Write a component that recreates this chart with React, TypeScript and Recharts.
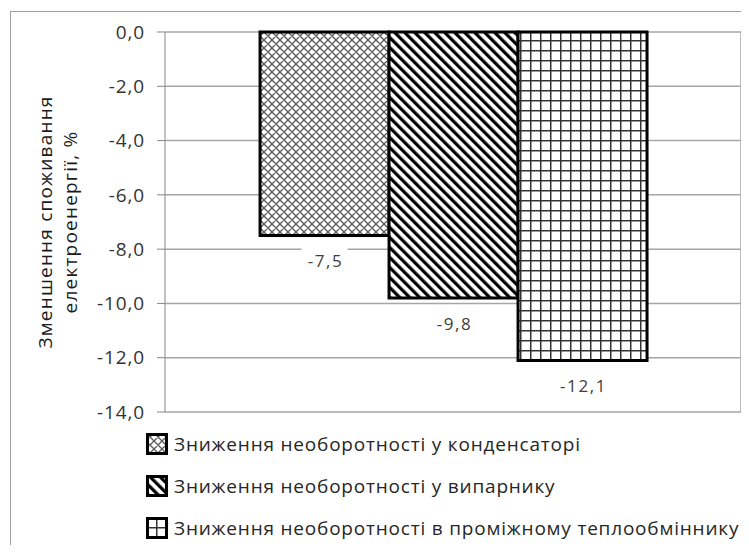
import { BarChart, Bar, XAxis, YAxis, CartesianGrid, Legend, LabelList } from 'recharts'

const categories = ['']
const condenser = [-7.5]
const evaporator = [-9.8]
const exchanger = [-12.1]
const yTicks = [0, -2, -4, -6, -8, -10, -12, -14]
const seriesNames = [
  'Зниження необоротності у конденсаторі',
  'Зниження необоротності у випарнику',
  'Зниження необоротності в проміжному теплообміннику',
]
const yTitle = ['Зменшення споживання', 'електроенергії, %']

const data = categories.map((name, i) => ({
  name,
  condenser: condenser[i],
  evaporator: evaporator[i],
  exchanger: exchanger[i],
}))

const patternIds = ['patCross', 'patDiag', 'patGrid']
const FONT = '"Open Sans", sans-serif'

const fmt = (v: number) => v.toFixed(1).replace('.', ',')

function ValueLabel(props: any) {
  const vb = props.viewBox ?? props
  const x = Number(vb.x)
  const y = Number(vb.y)
  const w = Number(vb.width)
  const h = Number(vb.height)
  const bottom = Math.max(y, y + h)
  const cx = x + w / 2
  const cy = bottom + 25
  return (
    <g>
      <rect x={cx - 23} y={cy - 13} width={46} height={26} fill="#fff" />
      <text
        x={cx + 1}
        y={cy}
        textAnchor="middle"
        dominantBaseline="central"
        fontSize={17}
        letterSpacing={1.6}
        fill="#404040"
        fontFamily={FONT}
      >
        {fmt(Number(props.value))}
      </text>
    </g>
  )
}

function YTitle(props: any) {
  const vb = props.viewBox
  const cy = vb.y + vb.height / 2
  return (
    <g fontFamily={FONT} fontSize={19} letterSpacing={1.2} fill="#1a1a1a">
      <text x={45} y={cy} transform={`rotate(-90 45 ${cy})`} textAnchor="middle" dominantBaseline="central">
        {yTitle[0]}
      </text>
      <text x={70} y={cy} transform={`rotate(-90 70 ${cy})`} textAnchor="middle" dominantBaseline="central">
        {yTitle[1]}
      </text>
    </g>
  )
}

function LegendBox() {
  return (
    <div style={{ fontFamily: FONT, fontSize: 19, letterSpacing: 0.8, color: '#262626', textAlign: 'left' }}>
      {seriesNames.map((n, i) => (
        <div key={n} style={{ display: 'flex', alignItems: 'center', height: 42, whiteSpace: 'nowrap' }}>
          <svg width={22} height={22} style={{ marginRight: 6, flexShrink: 0 }}>
            <rect x={1.5} y={1.5} width={19} height={19} fill={`url(#${patternIds[i]})`} stroke="#000" strokeWidth={3} />
          </svg>
          <span>{n}</span>
        </div>
      ))}
    </div>
  )
}

export default function App() {
  return (
    <div style={{ position: 'relative', margin: -8, width: 749, height: 553, overflow: 'hidden', background: '#fff' }}>
      <div
        style={{
          position: 'absolute',
          left: 10,
          top: 11,
          width: 800,
          height: 600,
          border: '1px solid #a0a0a0',
        }}
      />
      <BarChart
        width={749}
        height={553}
        data={data}
        margin={{ top: 32, right: 4, bottom: 141, left: 0 }}
        barCategoryGap="16.5%"
        barGap={0}
      >
        <defs>
          <pattern id="patCross" width={8} height={8} patternUnits="userSpaceOnUse">
            <rect width={8} height={8} fill="#fff" />
            <path d="M0,0 L8,8 M8,0 L0,8 M-1,7 L1,9 M7,-1 L9,1 M-1,1 L1,-1 M7,9 L9,7" stroke="#5a5a5a" strokeWidth={1.3} />
          </pattern>
          <pattern id="patDiag" width={7.07} height={7.07} patternUnits="userSpaceOnUse" patternTransform="rotate(-45)">
            <rect width={7.07} height={7.07} fill="#fff" />
            <rect width={3.2} height={7.07} fill="#000" />
          </pattern>
          <pattern id="patGrid" width={10} height={10} patternUnits="userSpaceOnUse">
            <rect width={10} height={10} fill="#fff" />
            <path d="M0.75,0 L0.75,10 M0,0.75 L10,0.75" stroke="#333" strokeWidth={1.5} />
          </pattern>
        </defs>
        <CartesianGrid vertical={false} stroke="#a6a6a6" strokeWidth={1.5} />
        <XAxis dataKey="name" hide />
        <YAxis
          width={165}
          domain={[-14, 0]}
          ticks={yTicks}
          tickFormatter={fmt}
          tickSize={8}
          tickMargin={12}
          stroke="#868686"
          tick={{ fontSize: 19, letterSpacing: 0.9, fill: '#333', fontFamily: FONT }}
          label={<YTitle />}
          interval={0}
        />
        <YAxis
          yAxisId="frame"
          orientation="right"
          width={4}
          domain={[-14, 0]}
          tick={false}
          tickLine={false}
          stroke="#a6a6a6"
          strokeWidth={1.5}
        />
        <Legend
          layout="horizontal"
          verticalAlign="middle"
          align="center"
          content={<LegendBox />}
          wrapperStyle={{ left: 146, top: 423, width: 600 }}
        />
        <Bar dataKey="condenser" name={seriesNames[0]} fill="url(#patCross)" stroke="#000" strokeWidth={3} isAnimationActive={false}>
          <LabelList dataKey="condenser" content={<ValueLabel />} />
        </Bar>
        <Bar dataKey="evaporator" name={seriesNames[1]} fill="url(#patDiag)" stroke="#000" strokeWidth={3} isAnimationActive={false}>
          <LabelList dataKey="evaporator" content={<ValueLabel />} />
        </Bar>
        <Bar dataKey="exchanger" name={seriesNames[2]} fill="url(#patGrid)" stroke="#000" strokeWidth={3} isAnimationActive={false}>
          <LabelList dataKey="exchanger" content={<ValueLabel />} />
        </Bar>
      </BarChart>
    </div>
  )
}
